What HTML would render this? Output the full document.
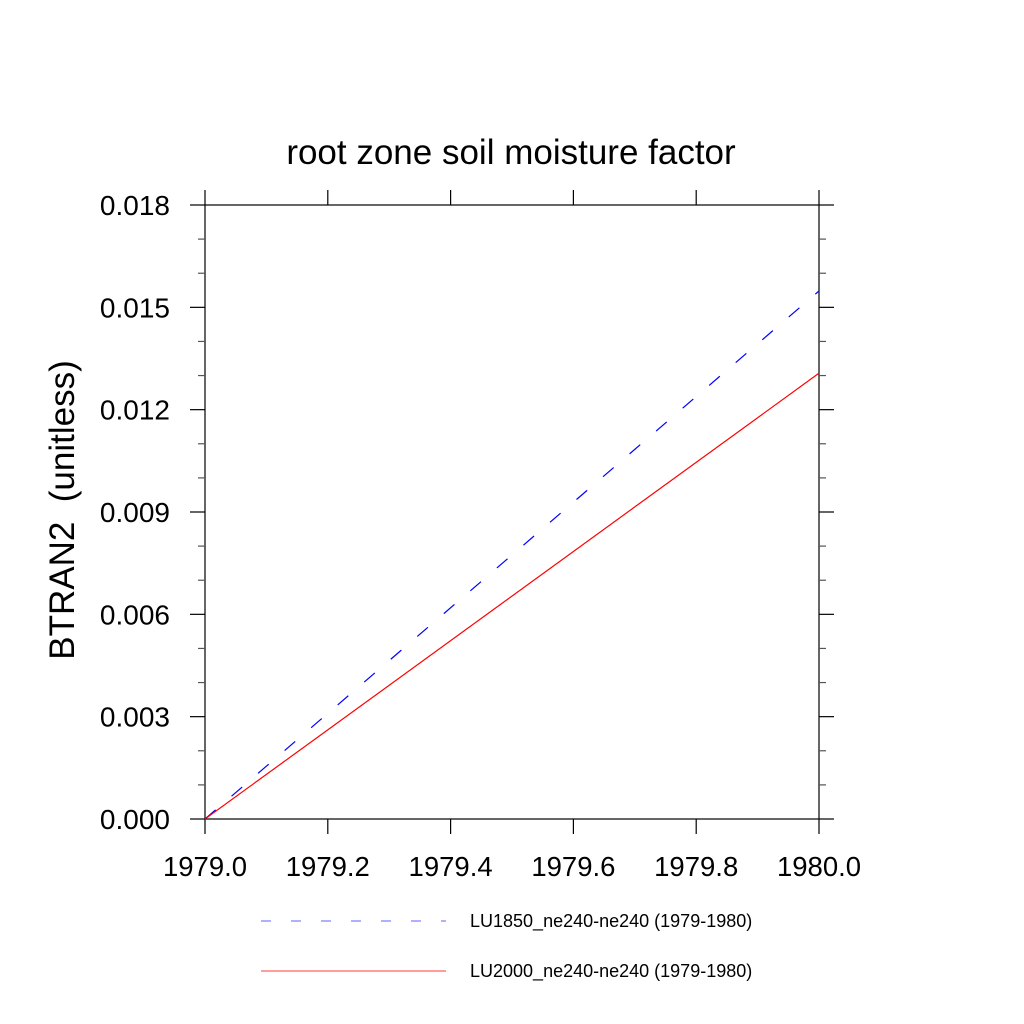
<!DOCTYPE html>
<html><head><meta charset="utf-8"><style>
body{margin:0;background:#fff}
svg{display:block;font-family:"Liberation Sans",sans-serif}
</style></head><body>
<svg id="chart" width="1024" height="1024" viewBox="0 0 1024 1024">
<rect width="1024" height="1024" fill="#fff"/>
<text x="511" y="164" font-size="35" text-anchor="middle">root zone soil moisture factor</text>
<text transform="translate(74,510) rotate(-90)" font-size="35" text-anchor="middle">BTRAN2&#160;&#160;(unitless)</text>
<g id="axes"></g>
<g id="series"></g>
<g>
<line x1="261" y1="921" x2="446" y2="921" stroke="#8080ff" stroke-width="1.2" stroke-dasharray="10 20"/>
<text x="470" y="927" font-size="18">LU1850_ne240-ne240 (1979-1980)</text>
<line x1="261" y1="971" x2="446" y2="971" stroke="#ff6060" stroke-width="1.2"/>
<text x="470" y="977" font-size="18">LU2000_ne240-ne240 (1979-1980)</text>
</g>
</svg>
<script>
const xTicks=[1979.0,1979.2,1979.4,1979.6,1979.8,1980.0];
const xTickLabels=["1979.0","1979.2","1979.4","1979.6","1979.8","1980.0"];
const yTicks=[0,0.003,0.006,0.009,0.012,0.015,0.018];
const yTickLabels=["0.000","0.003","0.006","0.009","0.012","0.015","0.018"];
const years=[1979.0,1980.0];
const lu1850=[0,0.01548];
const lu2000=[0,0.01307];
const X0=205,X1=819,Y0=819,Y1=205;
const sx=v=>X0+(v-1979)/(1980-1979)*(X1-X0);
const sy=v=>Y0-(v-0)/0.018*(Y0-Y1);
const NS="http://www.w3.org/2000/svg";
const ax=document.getElementById('axes'),se=document.getElementById('series');
function mk(p,tag,a){const e=document.createElementNS(NS,tag);for(const k in a)e.setAttribute(k,a[k]);p.appendChild(e);return e;}
const fr=mk(ax,'rect',{x:X0,y:Y1,width:X1-X0,height:Y0-Y1,fill:'none',stroke:'#000','stroke-width':1.2});


xTicks.forEach((v,i)=>{const x=sx(v);
 mk(ax,'line',{x1:x,y1:Y0,x2:x,y2:Y0+15,stroke:'#000','stroke-width':1.2});
 mk(ax,'line',{x1:x,y1:Y1,x2:x,y2:Y1-15,stroke:'#000','stroke-width':1.2});
 const t=mk(ax,'text',{x:x,y:Y0+57,'font-size':27.5,'text-anchor':'middle'});t.textContent=xTickLabels[i];
 
 
});
for(let k=0;k<=18;k++){const v=k*0.001,y=sy(v);const maj=k%3===0;const L=maj?15:7;
 mk(ax,'line',{x1:X0,y1:y,x2:X0-L,y2:y,stroke:maj?'#000':'#555','stroke-width':1.2});
 mk(ax,'line',{x1:X1,y1:y,x2:X1+L,y2:y,stroke:maj?'#000':'#555','stroke-width':1.2});}
yTicks.forEach((v,i)=>{const t=mk(ax,'text',{x:X0-35,y:sy(v)+10,'font-size':28,'text-anchor':'end'});t.textContent=yTickLabels[i];
 
 });
function path(vals){return vals.map((v,i)=>(i?'L':'M')+sx(years[i])+','+sy(v)).join(' ');}
const p1=mk(se,'path',{d:path(lu1850),fill:'none',stroke:'#0000ff','stroke-width':1.2,'stroke-dasharray':'14 21'});


const p2=mk(se,'path',{d:path(lu2000),fill:'none',stroke:'#ff0000','stroke-width':1.2});


</script>
</body></html>
